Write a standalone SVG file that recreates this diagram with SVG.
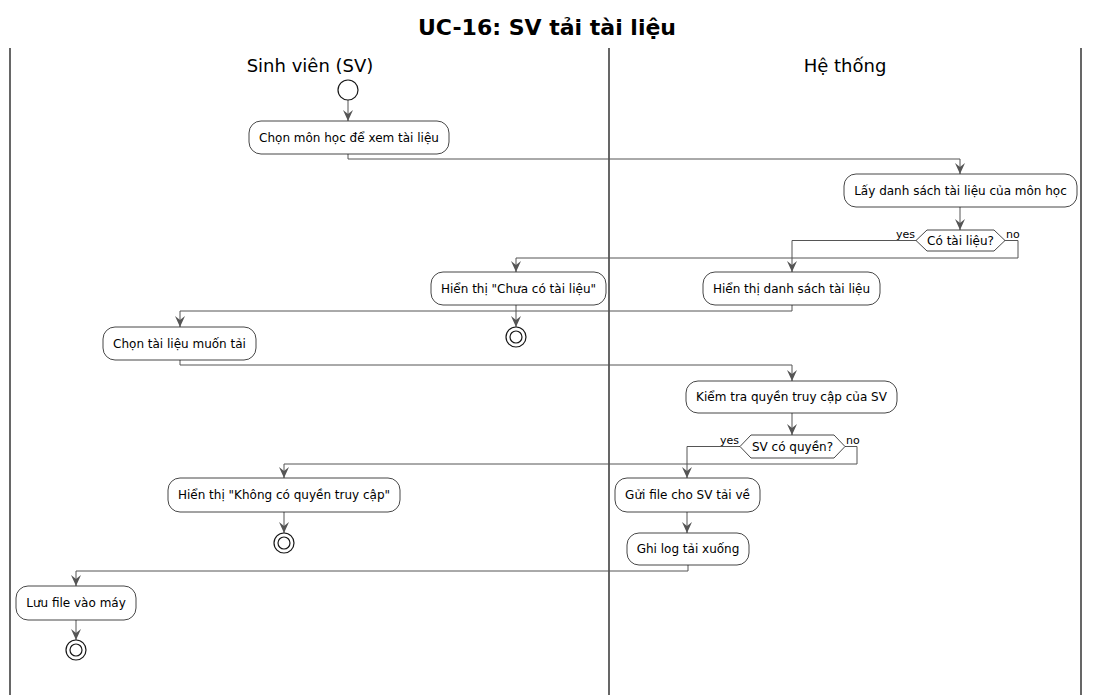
<svg xmlns="http://www.w3.org/2000/svg" width="1095" height="700" viewBox="0 0 1095 700">
<defs>
<marker id="arr" viewBox="0 0 12 10" refX="11" refY="5" markerWidth="12" markerHeight="10" markerUnits="userSpaceOnUse" orient="auto">
<path d="M0,0 L11,5 L0,10 L4,5 Z" fill="#555555"/>
</marker>
</defs>
<style>
text{font-family:"DejaVu Sans","Liberation Sans",sans-serif;fill:#000}
.title{font-size:22px;font-weight:bold}
.lane{font-size:18px}
.t{font-size:12px}
.lbl{font-size:11px}
.box{fill:#fff;stroke:#181818;stroke-width:0.8}
.sep{stroke:#000;stroke-width:1.2}
.c{fill:none;stroke:#555555;stroke-width:1}
.ring{fill:#fff;stroke:#181818;stroke-width:1.2}
</style>
<rect width="1095" height="700" fill="#fff"/>
<text class="title" x="547" y="35" text-anchor="middle">UC-16: SV tải tài liệu</text>
<g id="lanes">
<line class="sep" x1="10" y1="48" x2="10" y2="695"/>
<line class="sep" x1="609" y1="48" x2="609" y2="695"/>
<line class="sep" x1="1081" y1="48" x2="1081" y2="695"/>
<text class="lane" x="310" y="72" text-anchor="middle">Sinh viên (SV)</text>
<text class="lane" x="845" y="72" text-anchor="middle">Hệ thống</text>
</g>
<g id="connectors">
<path class="c" d="M348,100 L348,121" marker-end="url(#arr)"/>
<path class="c" d="M348,154 L348,159 L960,159 L960,174" marker-end="url(#arr)"/>
<path class="c" d="M960,207 L960,230" marker-end="url(#arr)"/>
<path class="c" d="M916,240.5 L792,240.5 L792,272" marker-end="url(#arr)"/>
<path class="c" d="M1005,240.5 L1018,240.5 L1018,258 L516,258 L516,272" marker-end="url(#arr)"/>
<path class="c" d="M516,305 L516,327" marker-end="url(#arr)"/>
<path class="c" d="M792,305 L792,311 L180,311 L180,327" marker-end="url(#arr)"/>
<path class="c" d="M180,360 L180,365 L792,365 L792,381" marker-end="url(#arr)"/>
<path class="c" d="M792,413 L792,435" marker-end="url(#arr)"/>
<path class="c" d="M740,446.5 L687,446.5 L687,478" marker-end="url(#arr)"/>
<path class="c" d="M845,446.5 L857,446.5 L857,464 L284,464 L284,478" marker-end="url(#arr)"/>
<path class="c" d="M284,512 L284,533" marker-end="url(#arr)"/>
<path class="c" d="M687,512 L687,533" marker-end="url(#arr)"/>
<path class="c" d="M688,565 L688,571 L76,571 L76,586" marker-end="url(#arr)"/>
<path class="c" d="M76,620 L76,640" marker-end="url(#arr)"/>
<text class="lbl" x="915" y="238" text-anchor="end">yes</text>
<text class="lbl" x="1006" y="238">no</text>
<text class="lbl" x="739" y="444" text-anchor="end">yes</text>
<text class="lbl" x="846" y="444">no</text>
</g>
<g id="start"><circle class="ring" cx="348" cy="90" r="10"/></g>
<g id="n1"><rect class="box" x="249" y="121" width="200" height="33" rx="12"/><text class="t" x="349" y="142" text-anchor="middle">Chọn môn học để xem tài liệu</text></g>
<g id="n2"><rect class="box" x="844" y="174" width="233" height="33" rx="12"/><text class="t" x="960.5" y="195" text-anchor="middle">Lấy danh sách tài liệu của môn học</text></g>
<g id="d1"><polygon class="box" points="916,240.5 927,230 994,230 1005,240.5 994,251 927,251"/><text class="t" x="960.5" y="245" text-anchor="middle">Có tài liệu?</text></g>
<g id="n3"><rect class="box" x="431" y="272" width="175" height="33" rx="12"/><text class="t" x="518.5" y="293" text-anchor="middle">Hiển thị "Chưa có tài liệu"</text></g>
<g id="end1"><circle class="ring" cx="516" cy="337" r="10"/><circle class="ring" cx="516" cy="337" r="6"/></g>
<g id="n4"><rect class="box" x="703" y="272" width="177" height="33" rx="12"/><text class="t" x="791.5" y="293" text-anchor="middle">Hiển thị danh sách tài liệu</text></g>
<g id="n5"><rect class="box" x="103" y="327" width="153" height="33" rx="12"/><text class="t" x="179.5" y="348" text-anchor="middle">Chọn tài liệu muốn tải</text></g>
<g id="n6"><rect class="box" x="686" y="381" width="211" height="32" rx="12"/><text class="t" x="791.5" y="401" text-anchor="middle">Kiểm tra quyền truy cập của SV</text></g>
<g id="d2"><polygon class="box" points="740,446.5 751,435 834,435 845,446.5 834,458 751,458"/><text class="t" x="792.5" y="451" text-anchor="middle">SV có quyền?</text></g>
<g id="n7"><rect class="box" x="168" y="478" width="232" height="34" rx="12"/><text class="t" x="284" y="499" text-anchor="middle">Hiển thị "Không có quyền truy cập"</text></g>
<g id="end2"><circle class="ring" cx="284" cy="543" r="10"/><circle class="ring" cx="284" cy="543" r="6"/></g>
<g id="n8"><rect class="box" x="615" y="478" width="145" height="34" rx="12"/><text class="t" x="687.5" y="499" text-anchor="middle">Gửi file cho SV tải về</text></g>
<g id="n9"><rect class="box" x="627" y="533" width="122" height="32" rx="12"/><text class="t" x="688" y="553" text-anchor="middle">Ghi log tải xuống</text></g>
<g id="n10"><rect class="box" x="16" y="586" width="120" height="34" rx="12"/><text class="t" x="76" y="607" text-anchor="middle">Lưu file vào máy</text></g>
<g id="end3"><circle class="ring" cx="76" cy="650" r="10"/><circle class="ring" cx="76" cy="650" r="6"/></g>
</svg>
